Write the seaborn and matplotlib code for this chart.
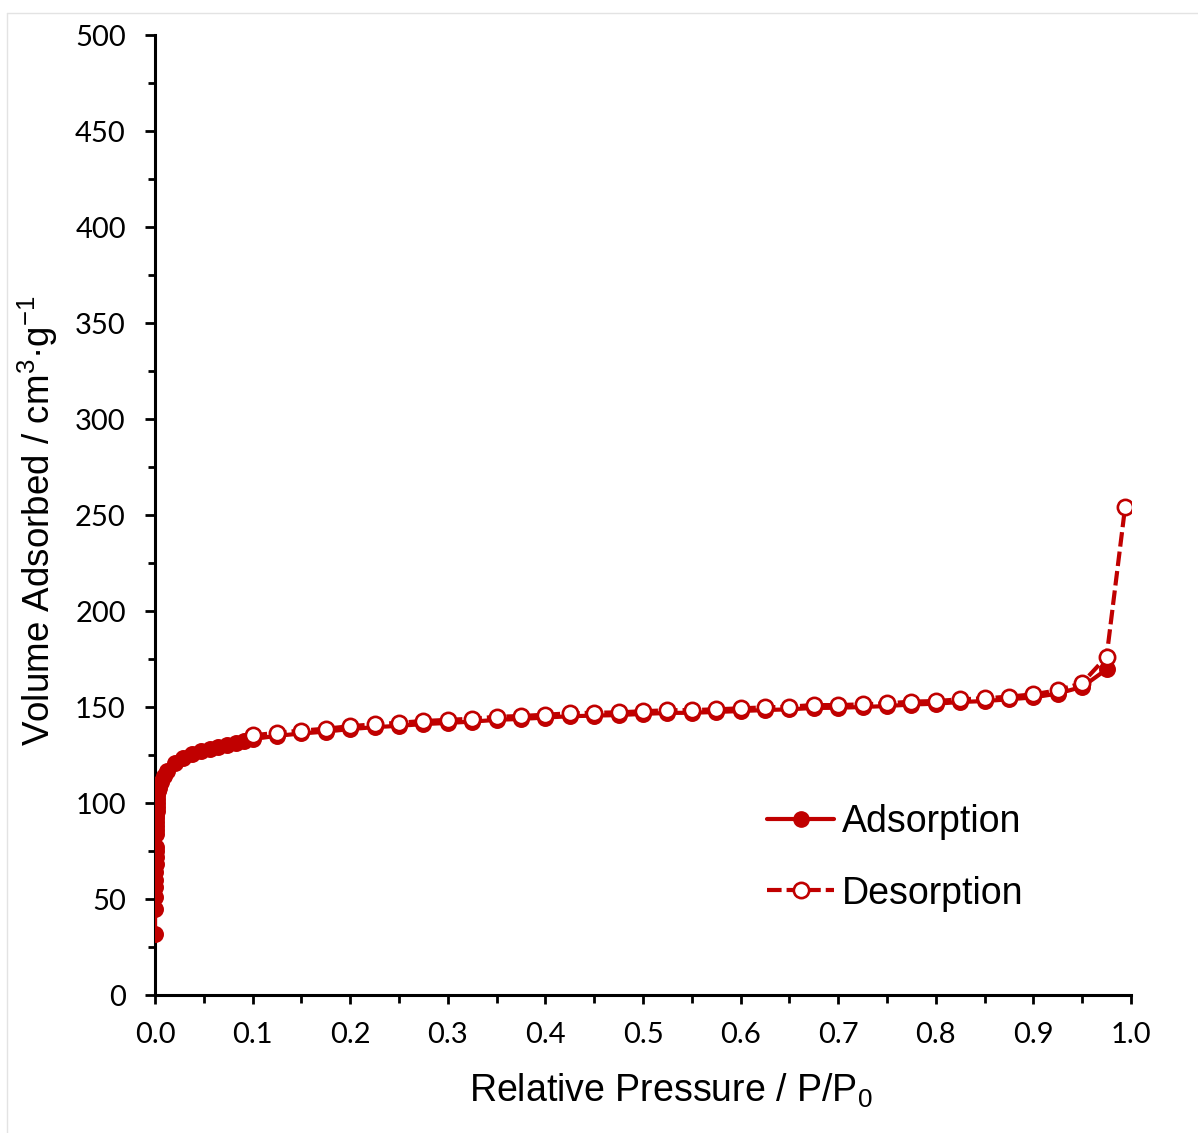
import matplotlib
matplotlib.use("Agg")
import matplotlib.pyplot as plt
from matplotlib.lines import Line2D
from matplotlib.ticker import MultipleLocator
import seaborn as sns
import pandas as pd

# ---------------- data ----------------
ads_p = [0.0, 0.0001, 0.0002, 0.0003, 0.0004, 0.0005, 0.0006, 0.0007, 0.0008, 0.0009,
         0.0010, 0.0011, 0.0012, 0.0013, 0.0014, 0.0015, 0.0016, 0.0017, 0.0018, 0.0020,
         0.0025, 0.0030, 0.0040, 0.0060, 0.0090, 0.012,
         0.020, 0.029, 0.038, 0.047, 0.056, 0.065, 0.074, 0.083, 0.091, 0.100,
         0.125, 0.150, 0.175, 0.200, 0.225, 0.250, 0.275, 0.300, 0.325, 0.350,
         0.375, 0.400, 0.425, 0.450, 0.475, 0.500, 0.525, 0.550, 0.575, 0.600,
         0.625, 0.650, 0.675, 0.700, 0.725, 0.750, 0.775, 0.800, 0.825, 0.850,
         0.875, 0.900, 0.925, 0.950, 0.975]
ads_v = [32, 45, 51, 56, 60, 64, 68, 72, 75, 77,
         84, 86, 88, 90, 92, 94, 96, 98, 100, 102,
         104, 106, 108, 111, 114, 116.5,
         121, 123.5, 125.5, 127, 128.3, 129.4, 130.4, 131.4, 132.3, 133.3,
         135.0, 136.2, 137.2, 138.5, 139.5, 140.2, 141.1, 141.7, 142.4, 143.3,
         143.8, 144.5, 145.2, 145.5, 145.8, 146.4, 146.9, 147.0, 147.4, 147.9,
         148.4, 148.8, 149.5, 149.6, 150.0, 150.5, 151.3, 151.7, 152.6, 153.1,
         154.0, 155.0, 157.0, 160.5, 169.6]

des_p = [0.100, 0.125, 0.150, 0.175, 0.200, 0.225, 0.250, 0.275, 0.300, 0.325,
         0.350, 0.375, 0.400, 0.425, 0.450, 0.475, 0.500, 0.525, 0.550, 0.575,
         0.600, 0.625, 0.650, 0.675, 0.700, 0.725, 0.750, 0.775, 0.800, 0.825,
         0.850, 0.875, 0.900, 0.925, 0.950, 0.975, 0.994]
des_v = [135.2, 136.6, 137.7, 138.7, 140.0, 141.0, 141.8, 142.7, 143.3, 143.9,
         144.9, 145.3, 146.0, 146.7, 147.0, 147.2, 147.8, 148.3, 148.4, 148.8,
         149.3, 149.8, 150.2, 151.0, 151.0, 151.4, 151.9, 152.8, 153.1, 154.0,
         154.5, 155.4, 156.6, 158.7, 162.5, 176.2, 254.3]

x_ticks = [0.0, 0.1, 0.2, 0.3, 0.4, 0.5, 0.6, 0.7, 0.8, 0.9, 1.0]
y_ticks = [0, 50, 100, 150, 200, 250, 300, 350, 400, 450, 500]

ads_df = pd.DataFrame({"p": ads_p, "v": ads_v})
des_df = pd.DataFrame({"p": des_p, "v": des_v})

# ---------------- style ----------------
sns.set_style("ticks")
plt.rcParams["font.family"] = ["Liberation Sans", "DejaVu Sans"]
plt.rcParams["mathtext.default"] = "regular"
plt.rcParams["text.color"] = "black"
plt.rcParams["axes.labelcolor"] = "black"
plt.rcParams["xtick.color"] = "black"
plt.rcParams["ytick.color"] = "black"

RED = "#C00000"
LW = 3.0
MS = 11
DASH = (0, (3.5, 1.2))

fig = plt.figure(figsize=(11.98, 11.33), dpi=100)
ax = fig.add_axes([155 / 1198, 1 - 995 / 1133, (1131 - 155) / 1198, (995 - 35) / 1133])

sns.lineplot(data=ads_df, x="p", y="v", ax=ax, sort=False, estimator=None,
             color=RED, linewidth=LW, marker="o", markersize=MS,
             markerfacecolor=RED, markeredgecolor=RED, markeredgewidth=1.2, zorder=3)
sns.lineplot(data=des_df, x="p", y="v", ax=ax, sort=False, estimator=None,
             color=RED, linewidth=LW, linestyle=DASH, marker="o", markersize=MS,
             markerfacecolor="white", markeredgecolor=RED, markeredgewidth=1.9, zorder=4)

ax.set_xlim(0, 1.0)
ax.set_ylim(0, 500)
ax.set_xticks(x_ticks)
ax.set_xticklabels([f"{t:.1f}" for t in x_ticks])
ax.set_yticks(y_ticks)
ax.set_yticklabels([str(t) for t in y_ticks])
ax.xaxis.set_minor_locator(MultipleLocator(0.05))
ax.yaxis.set_minor_locator(MultipleLocator(25))

for lbl in ax.get_xticklabels() + ax.get_yticklabels():
    lbl.set_fontfamily(["Lato", "DejaVu Sans"])
    lbl.set_fontsize(21)
    lbl.set_color("black")

ax.tick_params(axis="y", which="major", direction="out", length=7, width=2, pad=14)
ax.tick_params(axis="y", which="minor", direction="out", length=5, width=2)
ax.tick_params(axis="x", which="major", direction="out", length=6.5, width=2, pad=13)
ax.tick_params(axis="x", which="minor", direction="out", length=6, width=2)

for s in ["top", "right"]:
    ax.spines[s].set_visible(False)
for s in ["left", "bottom"]:
    ax.spines[s].set_linewidth(2.2)
    ax.spines[s].set_color("black")

ax.set_xlabel("Relative Pressure / P/P$_0$", fontsize=27, labelpad=17, color="black")
ax.set_ylabel("Volume Adsorbed / cm$^3$·g$^{-1}$", fontsize=26.5, labelpad=11, color="black")
ax.xaxis.label.set_x(0.528)
ax.yaxis.label.set_y(0.494)

handles = [
    Line2D([0], [0], color=RED, linewidth=LW, marker="o", markersize=MS,
           markerfacecolor=RED, markeredgecolor=RED),
    Line2D([0], [0], color=RED, linewidth=LW, linestyle=DASH, marker="o", markersize=MS,
           markerfacecolor="white", markeredgecolor=RED, markeredgewidth=1.9),
]
leg = ax.legend(handles, ["Adsorption", "Desorption"], loc="center left",
                bbox_to_anchor=(0.627, 0.143), frameon=False, fontsize=27,
                handlelength=1.8, handletextpad=0.2, labelspacing=0.95,
                borderpad=0, borderaxespad=0)
for t in leg.get_texts():
    t.set_color("black")

# light frame lines at top and left of the picture
fig.add_artist(Line2D([7 / 1198, 1.0], [1 - 13 / 1133, 1 - 13 / 1133], color="#e3e3e3", linewidth=1))
fig.add_artist(Line2D([7 / 1198, 7 / 1198], [0.0, 1 - 13 / 1133], color="#e3e3e3", linewidth=1))

fig.savefig("out.png", dpi=100, facecolor="white")
